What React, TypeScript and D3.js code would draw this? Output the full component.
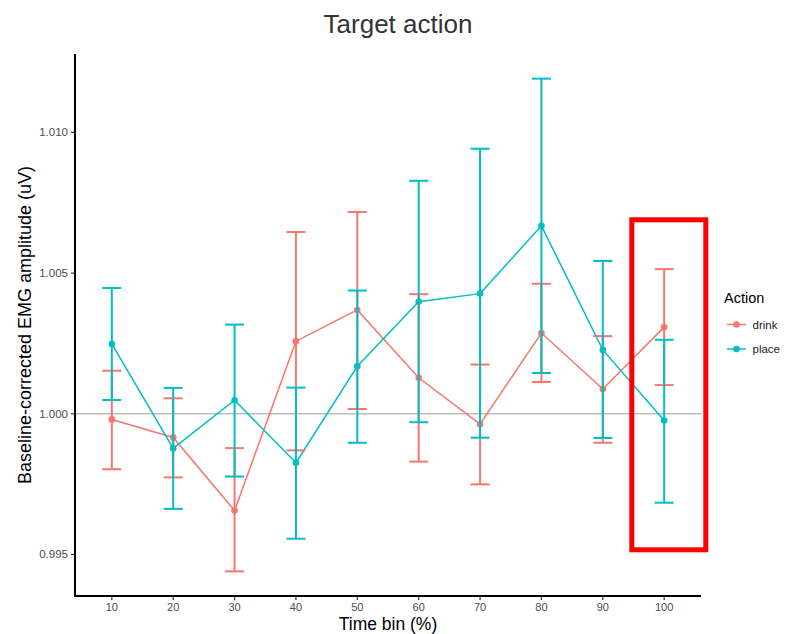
import React from "react";
import * as d3 from "d3";

// time bins (%)
const bins = ["10", "20", "30", "40", "50", "60", "70", "80", "90", "100"];

// drink: mean, upper, lower
const drinkMean = [0.9998, 0.99916, 0.99656, 1.00258, 1.00369, 1.00128, 0.99963, 1.00287, 1.00088, 1.00308];
const drinkUpper = [1.00153, 1.00055, 0.99878, 1.00646, 1.00717, 1.00425, 1.00175, 1.00462, 1.00276, 1.00514];
const drinkLower = [0.99803, 0.99774, 0.9944, 0.9987, 1.00017, 0.9983, 0.99749, 1.00113, 0.99897, 1.00102];

// place: mean, upper, lower
const placeMean = [1.00248, 0.99877, 1.00048, 0.99826, 1.00169, 1.00398, 1.00427, 1.00668, 1.00227, 0.99976];
const placeUpper = [1.00447, 1.00092, 1.00317, 1.00093, 1.00438, 1.00828, 1.00942, 1.01191, 1.00543, 1.00263];
const placeLower = [1.00049, 0.99662, 0.99777, 0.99556, 0.99897, 0.9997, 0.99915, 1.00145, 0.99914, 0.99684];

const yTicks = [0.995, 1.0, 1.005, 1.01];

const series = [
  { name: "drink", color: "#F8766D", mean: drinkMean, upper: drinkUpper, lower: drinkLower },
  { name: "place", color: "#00BFC4", mean: placeMean, upper: placeUpper, lower: placeLower },
];

const W = 785;
const H = 634;
const left = 75;
const right = 701;
const top = 54;
const bottom = 596;
const font = "'Liberation Sans', Arial, sans-serif";

export default function App() {
  const all = [...drinkUpper, ...drinkLower, ...placeUpper, ...placeLower];
  const lo = d3.min(all) as number;
  const hi = d3.max(all) as number;
  const pad = (hi - lo) * 0.05;

  const x = d3.scalePoint<string>().domain(bins).range([left, right]).padding(0.6);
  const y = d3.scaleLinear().domain([lo - pad, hi + pad]).range([bottom, top]);
  const fmt = d3.format(".3f");
  const capW = 9.5;

  const line = d3
    .line<number>()
    .x((_, i) => x(bins[i]) as number)
    .y((d) => y(d));

  return (
    <svg width={W} height={H} style={{ position: "absolute", left: 0, top: 0, background: "#fff" }} fontFamily={font}>
      <text x={398} y={33} fontSize={26} textAnchor="middle" fill="#333">
        Target action
      </text>

      {/* reference line */}
      <line x1={left} x2={right} y1={y(1)} y2={y(1)} stroke="#BEBEBE" strokeWidth={1.6} />

      {series.map((s) => (
        <path key={s.name + "-l"} d={line(s.mean) ?? ""} fill="none" stroke={s.color} strokeWidth={1.5} />
      ))}
      {series.map((s) => (
        <g key={s.name + "-p"}>
          {s.mean.map((v, i) => (
            <circle key={i} cx={x(bins[i])} cy={y(v)} r={3.3} fill={s.color} />
          ))}
        </g>
      ))}
      {series.map((s) => (
        <g key={s.name + "-e"} stroke={s.color} strokeWidth={2} fill="none">
          {bins.map((b, i) => {
            const cx = x(b) as number;
            return (
              <g key={b}>
                <line x1={cx} x2={cx} y1={y(s.upper[i])} y2={y(s.lower[i])} />
                <line x1={cx - capW} x2={cx + capW} y1={y(s.upper[i])} y2={y(s.upper[i])} />
                <line x1={cx - capW} x2={cx + capW} y1={y(s.lower[i])} y2={y(s.lower[i])} />
              </g>
            );
          })}
        </g>
      ))}

      {/* axes */}
      <line x1={left} x2={left} y1={top} y2={bottom + 1} stroke="#000" strokeWidth={2} />
      <line x1={left - 1} x2={right} y1={bottom} y2={bottom} stroke="#000" strokeWidth={2} />
      {yTicks.map((t) => (
        <g key={t}>
          <line x1={left - 4} x2={left} y1={y(t)} y2={y(t)} stroke="#333" strokeWidth={1.2} />
          <text x={left - 7} y={y(t) + 4} fontSize={11.5} textAnchor="end" fill="#4D4D4D">
            {fmt(t)}
          </text>
        </g>
      ))}
      {bins.map((b) => (
        <g key={b}>
          <line x1={x(b)} x2={x(b)} y1={bottom} y2={bottom + 4} stroke="#333" strokeWidth={1.2} />
          <text x={x(b)} y={611} fontSize={11} textAnchor="middle" fill="#4D4D4D">
            {b}
          </text>
        </g>
      ))}
      <text x={388} y={630} fontSize={17.5} textAnchor="middle" fill="#000">
        Time bin (%)
      </text>
      <text transform={`translate(31,${(top + bottom) / 2}) rotate(-90)`} fontSize={18} textAnchor="middle" fill="#000">
        Baseline-corrected EMG amplitude (uV)
      </text>

      {/* legend */}
      <text x={724} y={303} fontSize={14.5} fill="#000">
        Action
      </text>
      {series.map((s, i) => {
        const ly = 324.5 + i * 24.5;
        return (
          <g key={s.name + "-leg"}>
            <line x1={727} x2={746} y1={ly} y2={ly} stroke={s.color} strokeWidth={1.5} />
            <circle cx={736.5} cy={ly} r={3.3} fill={s.color} />
            <text x={752.5} y={ly + 4} fontSize={11.5} fill="#1a1a1a">
              {s.name}
            </text>
          </g>
        );
      })}

      {/* highlight box */}
      <rect x={631.8} y={219.8} width={74} height={330} fill="none" stroke="#FF0000" strokeWidth={5} />
    </svg>
  );
}
